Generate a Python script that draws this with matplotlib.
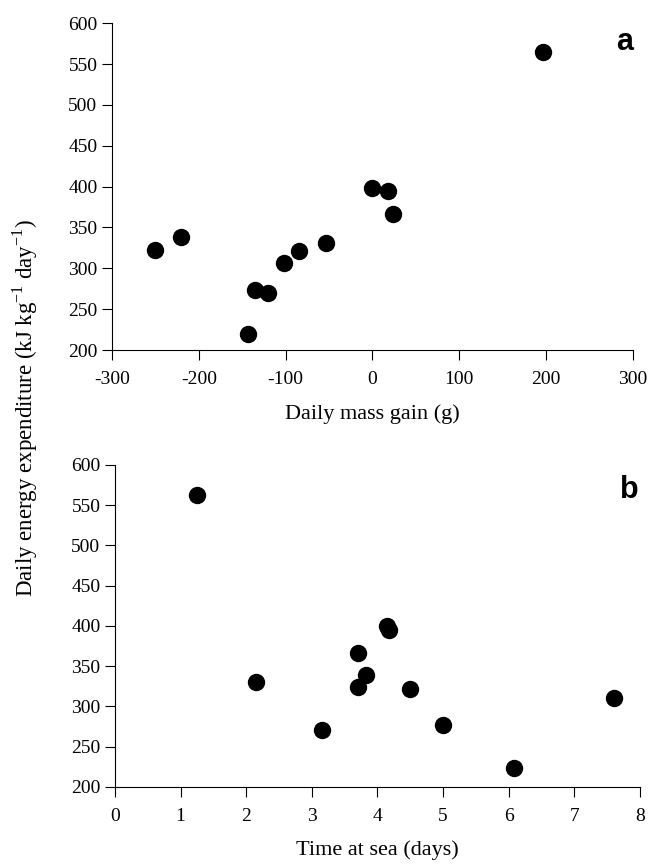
import numpy as np
import matplotlib.pyplot as plt

# panel a: daily mass gain (g) vs daily energy expenditure
mass_gain = [-250, -220, -143, -135, -120, -102, -85, -53, -1, 18, 24, 196]
dee_a = [322, 338, 220, 274, 270, 306, 321, 331, 398, 395, 367, 565]

# panel b: time at sea (days) vs daily energy expenditure
time_sea = [1.25, 2.15, 3.15, 3.7, 3.7, 3.82, 4.15, 4.17, 4.5, 5.0, 6.08, 7.6]
dee_b = [563, 331, 271, 367, 324, 339, 400, 395, 322, 277, 224, 310]

plt.rcParams['font.family'] = ['Liberation Serif', 'DejaVu Serif']
plt.rcParams['axes.unicode_minus'] = False

fig = plt.figure(figsize=(6.51, 8.67), dpi=100)
ax1 = fig.add_axes([0.172, 0.5963, 0.800, 0.377])
ax2 = fig.add_axes([0.1767, 0.0923, 0.806, 0.3714])

def style(ax):
    for s in ['top', 'right']:
        ax.spines[s].set_visible(False)
    ax.tick_params(direction='out', length=7, labelsize=14)
    ax.tick_params(axis='x', pad=8)
    ax.set_ylim(200, 600)
    ax.set_yticks(np.arange(200, 601, 50))

ax1.plot(mass_gain, dee_a, 'o', color='black', ms=11.5)
ax1.set_xlim(-300, 300)
ax1.set_xticks(np.arange(-300, 301, 100))
style(ax1)
ax1.set_xlabel('Daily mass gain (g)', fontsize=16, labelpad=12)

ax2.plot(time_sea, dee_b, 'o', color='black', ms=11.5)
ax2.set_xlim(0, 8)
ax2.set_xticks(np.arange(0, 9, 1))
style(ax2)
ax2.set_xlabel('Time at sea (days)', fontsize=16, labelpad=11)

fig.text(0.960, 0.951, 'a', fontsize=22, fontweight='bold',
         family='Liberation Sans', ha='center', va='center')
fig.text(0.967, 0.435, 'b', fontsize=22, fontweight='bold',
         family='Liberation Sans', ha='center', va='center')

fig.text(0.038, 0.529, 'Daily energy expenditure (kJ kg$^{\\mathregular{-1}}$ day$^{\\mathregular{-1}}$)',
         rotation=90, fontsize=16.5, ha='center', va='center')

fig.savefig('out.png', dpi=100)
